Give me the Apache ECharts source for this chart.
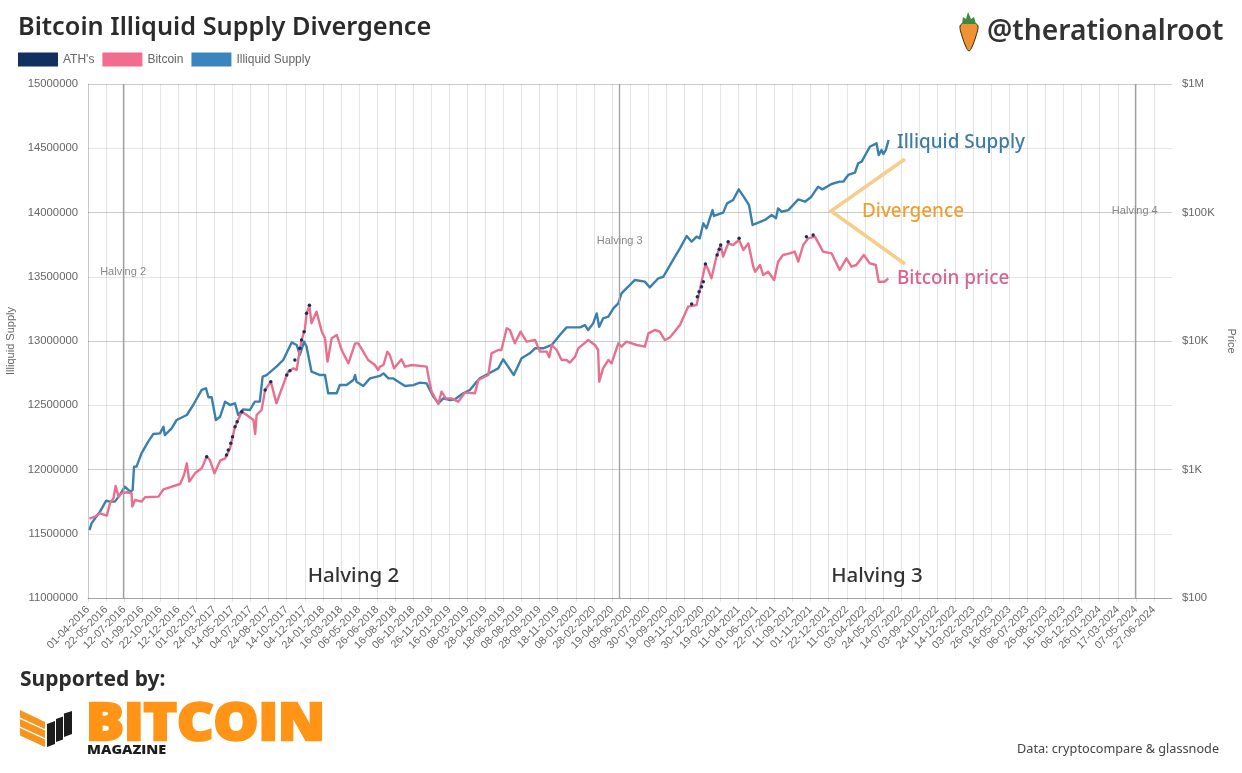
<!DOCTYPE html>
<html><head><meta charset="utf-8">
<script src="https://cdn.jsdelivr.net/npm/echarts@6/dist/echarts.min.js"></script>
<style>html,body{margin:0;padding:0;background:#fff}#c{width:1242px;height:773px}</style></head>
<body><div id="c"></div>
<script>
const tickLabels=["01-04-2016","22-05-2016","12-07-2016","01-09-2016","22-10-2016","12-12-2016","01-02-2017","24-03-2017","14-05-2017","04-07-2017","24-08-2017","14-10-2017","04-12-2017","24-01-2018","16-03-2018","06-05-2018","26-06-2018","16-08-2018","06-10-2018","26-11-2018","16-01-2019","08-03-2019","28-04-2019","18-06-2019","08-08-2019","28-09-2019","18-11-2019","08-01-2020","28-02-2020","19-04-2020","09-06-2020","30-07-2020","19-09-2020","09-11-2020","30-12-2020","19-02-2021","11-04-2021","01-06-2021","22-07-2021","11-09-2021","01-11-2021","22-12-2021","11-02-2022","03-04-2022","24-05-2022","14-07-2022","03-09-2022","24-10-2022","14-12-2022","03-02-2023","26-03-2023","16-05-2023","06-07-2023","26-08-2023","16-10-2023","06-12-2023","26-01-2024","17-03-2024","07-05-2024","27-06-2024"];
const priceTickNames={100:"$100",1000:"$1K",10000:"$10K",100000:"$100K",1000000:"$1M"};
// days since 01-04-2016
const supplyDays=[4,10,20,34,51,62,76,90,104,119,126,130,137,151,170,184,203,213,217,236,250,279,297,321,333,340,349,361,373,387,401,415,424,438,457,471,485,493,504,532,551,575,589,598,610,617,631,655,669,678,702,711,730,749,754,758,777,796,824,
834,848,862,876,895,918,937,956,965,975,989,1003,1022,1036,1059,1078,1097,1106,1135,1158,1172,1186,1202,1224,1247,1262,1285,1309,1332,1351,1370,1389,1403,1412,1426,1436,1443,1454,1469,1483,1497,1506,1520,1544,1572,1586,1610,1624,1643,
1657,1671,1690,1704,1718,1727,1737,1746,1763,1767,1793,1804,1821,1837,1854,1866,1876,1887,1911,1930,1942,1948,1958,1977,2005,2024,2042,2061,2073,2099,2122,2132,2146,2165,2174,2184,2207,2226,2232,2240,2245,2252,2260];
const supplyValues=[11529000,11581000,11620000,11672000,11757000,11750000,11750000,11802000,11866000,11827000,11840000,12022000,12022000,12126000,12217000,12276000,12281000,12333000,12268000,12320000,12385000,12424000,12502000,12619000,12632000,12562000,12562000,12385000,12411000,12528000,12502000,12515000,12424000,12468000,12463000,12528000,12528000,12722000,12735000,12800000,12852000,12989000,12969000,12891000,12995000,12956000,12761000,12735000,12735000,12593000,12593000,12658000,12658000,12696000,12735000,12683000,12650000,12709000,12728000,
12748000,12709000,12709000,12683000,12650000,12657000,12676000,12670000,12619000,12567000,12515000,12554000,12541000,12546000,12593000,12619000,12683000,12709000,12753000,12787000,12857000,12800000,12735000,12865000,12904000,12943000,12943000,12969000,13047000,13106000,13106000,13106000,13124000,13085000,13137000,13215000,13111000,13176000,13189000,13254000,13293000,13371000,13410000,13475000,13462000,13417000,13488000,13500000,13591000,
13656000,13721000,13817000,13773000,13812000,13799000,13916000,13877000,14019000,13973000,13999000,14071000,14097000,14180000,14110000,14058000,13903000,13916000,13942000,13981000,13955000,14032000,14006000,14019000,14102000,14084000,14123000,14201000,14180000,14222000,14240000,14240000,14292000,14310000,14383000,14396000,14512000,14538000,14447000,14486000,14455000,14486000,14564000];
const priceDays=[4,20,34,53,62,72,78,86,95,109,123,125,133,151,161,199,213,260,271,279,286,302,321,335,344,357,373,387,401,415,434,448,467,472,476,490,500,516,532,542,556,565,580,589,594,603,612,617,625,631,645,660,669,676,688,702,716,735,754,763,777,791,810,819,824,
834,845,852,864,885,895,914,956,963,970,989,998,1010,1026,1045,1064,1092,1102,1130,1139,1158,1167,1182,1191,1205,1221,1238,1262,1276,1295,1302,1309,1323,1337,1351,1360,1375,1384,1412,1431,1440,1443,1454,1469,1478,1497,1506,1520,1549,1572,1582,1600,1614,1628,1643,
1647,1671,1694,1718,1727,1743,1751,1760,1774,1786,1793,1807,1821,1838,1850,1864,1878,1883,1897,1906,1920,1937,1948,1962,1981,1995,2005,2019,2033,2052,2075,2099,2122,2141,2155,2169,2190,2207,2224,2232,2249,2259];
const priceValues=[414,430,456,437,545,597,744,615,653,665,653,514,579,562,608,615,701,771,906,1117,805,934,1021,1259,1185,934,1171,1221,1461,2154,2818,2655,2428,1889,2655,2904,4156,4825,3272,3914,4975,5771,6128,5947,7330,10180,12180,16420,18720,13730,16920,11820,10490,6905,10490,11140,8511,6703,9590,9590,8260,7114,6505,5947,6314,
6506,8260,7781,6128,7202,6314,6506,6314,4972,4034,3234,4034,3580,3580,3372,3963,3916,4972,5438,8018,8511,8511,12550,12180,9592,11820,9881,10180,8260,8260,7464,9309,8511,7116,7116,6781,7554,8770,10180,9309,8511,4826,6128,7116,6703,9592,9035,9881,9309,9035,11470,12180,11820,10180,10680,
10490,13320,18500,19060,24950,39740,35680,30740,45330,55860,45330,57540,55860,61090,51090,57540,37880,34630,39040,32630,34630,29830,41440,46690,48110,49570,41440,55860,62940,64860,49570,48110,35680,43990,37880,39040,46690,40220,39040,28950,28950,30740];
const athDays=[335,391,396,403,408,415,421,434,500,516,561,570,584,598,603,610,617,625,1704,1720,1725,1732,1737,1743,1776,1782,1786,1807,1838,2028,2047];
const athValues=[1259,1297,1418,1598,1801,2154,2356,2818,4156,4825,5438,5876,7114,8770,10180,11820,16420,18950,19400,22130,24200,26470,28950,39740,46690,51680,55860,59290,62940,64860,66830];
const halvingDays=[99,1501,2955];
const halvingNames=["Halving 2","Halving 3","Halving 4"];
const halvingLabelLevels=[13537000,13778000,14012000];

const pairs=(a,b)=>a.map((d,i)=>[d,b[i]]);
const sans='"Liberation Sans",Arial,sans-serif', ui='"Noto Sans",sans-serif';
const txt=(x,y,text,fill,size,weight,align)=>({type:'text',silent:true,z:50,style:{x,y,text,fill,font:`${weight} ${size}px ${ui}`,textAlign:align||'left',textVerticalAlign:'middle'}});
const poly=(points,fill)=>({type:'polygon',silent:true,z:50,shape:{points},style:{fill}});
const chevron={type:'polyline',silent:true,z:50,shape:{points:[[905,159],[831,211],[905,264]]},style:{stroke:'#f6cd8a',lineWidth:3.5,fill:null}};

const chart=echarts.init(document.getElementById('c'),null,{renderer:'canvas'});
chart.setOption({
 animation:false,backgroundColor:'#fff',
 legend:{left:18,top:52.5,padding:0,itemWidth:40,itemHeight:14,itemGap:8,icon:'rect',selectedMode:false,
  textStyle:{color:'#666',fontSize:12,fontFamily:sans},
  data:["ATH's","Bitcoin","Illiquid Supply"]},
 grid:{left:88,right:70,top:84,bottom:175,containLabel:false,outerBoundsMode:'none'},
 xAxis:{type:'value',min:0,max:3060,interval:51,
  axisLine:{show:true,onZero:false,lineStyle:{color:'rgba(0,0,0,0.2)'}},
  axisTick:{show:true,length:4,lineStyle:{color:'rgba(0,0,0,0.1)'}},
  splitLine:{show:true,showMaxLine:false,lineStyle:{color:'rgba(0,0,0,0.1)',width:1}},
  axisLabel:{rotate:45,margin:10,color:'#666',fontSize:10.8,fontFamily:sans,showMaxLabel:false,hideOverlap:false,
   formatter:v=>tickLabels[Math.round(v/51)]||''}},
 yAxis:[
  {type:'value',min:11000000,max:15000000,interval:500000,position:'left',name:'Illiquid Supply',nameLocation:'middle',nameGap:69,nameRotate:90,
   nameTextStyle:{color:'#666',fontSize:11,fontFamily:sans},
   axisLine:{show:true,lineStyle:{color:'rgba(0,0,0,0.12)'}},axisTick:{show:false},
   splitLine:{show:true,lineStyle:{color:'rgba(0,0,0,0.1)'}},
   axisLabel:{color:'#666',fontSize:11.3,fontFamily:sans,margin:10,formatter:v=>String(v)}},
  {type:'log',logBase:10,min:100,max:1000000,position:'right',name:'Price',nameLocation:'middle',nameGap:54,nameRotate:-90,
   nameTextStyle:{color:'#666',fontSize:11,fontFamily:sans},
   axisLine:{show:false},axisTick:{show:false},
   splitLine:{show:true,lineStyle:{color:'rgba(0,0,0,0.1)'}},minorSplitLine:{show:false},
   axisLabel:{color:'#666',fontSize:11.3,fontFamily:sans,margin:10,formatter:v=>priceTickNames[Math.round(v)]||''}}
 ],
 series:[
  {type:'line',yAxisIndex:0,data:[],silent:true,z:1,
   markLine:{silent:true,symbol:'none',label:{show:false},lineStyle:{color:'#a0a0a0',width:1.3,type:'solid'},
    data:halvingDays.map(d=>({xAxis:d}))},
   markPoint:{silent:true,symbol:'circle',symbolSize:0,
    label:{show:true,position:'inside',color:'#888',fontSize:11,fontFamily:sans,formatter:p=>p.name},
    data:halvingDays.map((d,i)=>({name:halvingNames[i],coord:[d,halvingLabelLevels[i]]}))}},
  {name:'Illiquid Supply',type:'line',yAxisIndex:0,data:pairs(supplyDays,supplyValues),showSymbol:false,z:2,
   lineStyle:{color:'#3a80ad',width:2.4,join:'round'},itemStyle:{color:'#3a85bd'}},
  {name:'Bitcoin',type:'line',yAxisIndex:1,data:pairs(priceDays,priceValues),showSymbol:false,z:3,
   lineStyle:{color:'#e8708e',width:2.4,join:'round'},itemStyle:{color:'#f26d8d'}},
  {name:"ATH's",type:'scatter',yAxisIndex:1,data:pairs(athDays,athValues),symbolSize:3.5,z:4,itemStyle:{color:'#12305f',opacity:1}}
 ],
 graphic:[
  txt(18,28,'Bitcoin Illiquid Supply Divergence','#2b2b2b',25.3,600),
  txt(987,32,'@therationalroot','#333',28.2,600),
  {type:'polygon',silent:true,z:50,shape:{smooth:0.35,points:[[960,26],[964,23],[974,23],[978,26],[976,36],[972,47],[969,51],[966,47],[962,36]]},style:{fill:'#ef9233',stroke:'#3a2a10',lineWidth:1}},
  poly([[962,24],[963,17],[966,19],[968,12],[971,19],[974,17],[976,24]],'#3f8a3a'),
  chevron,
  txt(897,143,'Illiquid Supply','#3a7ca5',18.9,500),
  txt(897,279,'Bitcoin price','#d9648a',18.9,500),
  txt(862,212,'Divergence','#f0a030',18.9,500),
  txt(353.5,576,'Halving 2','#333',20.5,500,'center'),
  txt(877,576,'Halving 3','#333',20.5,500,'center'),
  txt(20,680,'Supported by:','#2b2b2b',21,700),
  txt(1017,749,'Data: cryptocompare & glassnode','#444',12.7,400),
  {type:'text',silent:true,z:50,originX:87,originY:722,scaleX:1.085,style:{x:86,y:725,text:'BITCOIN',fill:'#ff9416',stroke:'#ff9416',lineWidth:2.5,font:'800 52px "Open Sans",sans-serif',textVerticalAlign:'middle'}},
  {type:'text',silent:true,z:50,originX:87,originY:751,scaleX:1.2,style:{x:87,y:751,text:'MAGAZINE',fill:'#1c1c1c',font:'800 12px "Open Sans",sans-serif',textVerticalAlign:'middle'}},
  poly([[20,710],[45,722],[45,729],[20,717.5]],'#f7941d'),
  poly([[20,719],[45,730.5],[45,738],[20,726.5]],'#f7941d'),
  poly([[20,728],[45,739.5],[45,747],[20,735.5]],'#f7941d'),
  poly([[47,724],[55,721],[55,744],[47,747]],'#1c1c1c'),
  poly([[56,719],[63,716.5],[63,739.5],[56,742]],'#1c1c1c'),
  poly([[64,713.5],[72,711],[72,734],[64,737]],'#1c1c1c')
 ]
});
</script></body></html>
